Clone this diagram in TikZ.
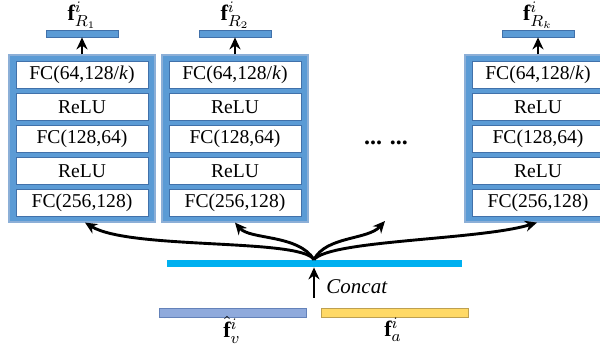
\documentclass[tikz,border=0pt]{standalone}
\usepackage{amsmath}
\usepackage{bm}
\usepackage{fontspec}
\setmainfont{Liberation Serif}
\usepackage{tikz}
\usetikzlibrary{shapes.geometric, arrows.meta}
\definecolor{frameblue}{RGB}{91,155,213}
\definecolor{edgeblue}{RGB}{140,175,215}
\definecolor{lineblue}{RGB}{65,113,170}
\definecolor{concatblue}{RGB}{0,176,240}
\definecolor{visblue}{RGB}{143,170,220}
\definecolor{visedge}{RGB}{100,130,185}
\definecolor{audyellow}{RGB}{255,217,102}
\definecolor{audedge}{RGB}{190,160,80}
\tikzstyle{frame} = [rectangle, draw=edgeblue, line width=0.6pt, fill=frameblue, minimum width=73pt, minimum height=83.5pt, inner sep=0pt]
\tikzstyle{layer} = [rectangle, draw=lineblue, line width=0.5pt, fill=white, minimum width=66pt, minimum height=13.5pt, inner sep=0pt, text centered]
\tikzstyle{outbar} = [rectangle, draw=lineblue, line width=0.4pt, fill=frameblue, minimum width=36pt, minimum height=3.5pt, inner sep=0pt]
\tikzstyle{featbar} = [rectangle, line width=0.4pt, minimum width=73.5pt, minimum height=4.5pt, inner sep=0pt]
\tikzstyle{featlab} = [font=\fontsize{11}{13}\selectfont, inner sep=1pt]
\tikzstyle{arrow} = [line width=1.45pt, black, -{Stealth[length=6pt,width=5.5pt]}]

\begin{document}
\begin{tikzpicture}[x=0.5pt, y=-0.5pt, font=\fontsize{9.8}{11.6}\selectfont]
            \useasboundingbox (0,0) rectangle (600,346);
            % the k branch heads
            \foreach \b/\cx/\k in {1/82/1, 2/235/2, 3/538/k} {
                \node(frame\b)[frame] at (\cx,138.5) {};
                \node(fcout\b)[layer] at (\cx,75) {FC(64,128/\textit{k})};
                \node(relutop\b)[layer] at (\cx,107) {ReLU};
                \node(fcmid\b)[layer] at (\cx,139) {FC(128,64)};
                \node(relulow\b)[layer] at (\cx,171) {ReLU};
                \node(fcin\b)[layer] at (\cx,203) {FC(256,128)};
                \node(bar\b)[outbar] at (\cx,33.5) {};
                \node(lab\b)[featlab] at (\cx,15) {$\mathbf{f}^{i}_{R_{\k}}$};
                \draw[arrow](frame\b)--(bar\b);
            }
            \node(dots)[font=\fontsize{12}{14}\selectfont\bfseries] at (386,143) {... ...};
            % fused feature
            \node(concat)[rectangle, fill=concatblue, minimum width=147.5pt, minimum height=3.5pt, inner sep=0pt] at (314,263.5) {};
            \node(vis)[featbar, draw=visedge, fill=visblue] at (232.5,312.5) {};
            \node(aud)[featbar, draw=audedge, fill=audyellow] at (394.5,312.5) {};
            \node(vislab)[featlab] at (232,330) {$\hat{\mathbf{f}}^{i}_{v}$};
            \node(audlab)[featlab] at (393,330) {$\mathbf{f}^{i}_{a}$};
            \coordinate(cin) at (314,298);
            \coordinate(gap) at (385,221);
            \node(cclab)[font=\fontsize{10.5}{12}\selectfont] at (357,287) {\textit{Concat}};
            \draw[arrow](cin)--(concat);
            \draw[arrow](concat.north) .. controls (300,238) and (130,250) .. ([xshift=1.5pt]frame1.south);
            \draw[arrow](concat.north) .. controls (298,234) and (250,240) .. (frame2.south);
            \draw[arrow](concat.north) .. controls (326,236) and (368,240) .. (gap);
            \draw[arrow](concat.north) .. controls (330,240) and (480,240) .. ([xshift=-0.5pt]frame3.south);
        \end{tikzpicture}
\end{document}
